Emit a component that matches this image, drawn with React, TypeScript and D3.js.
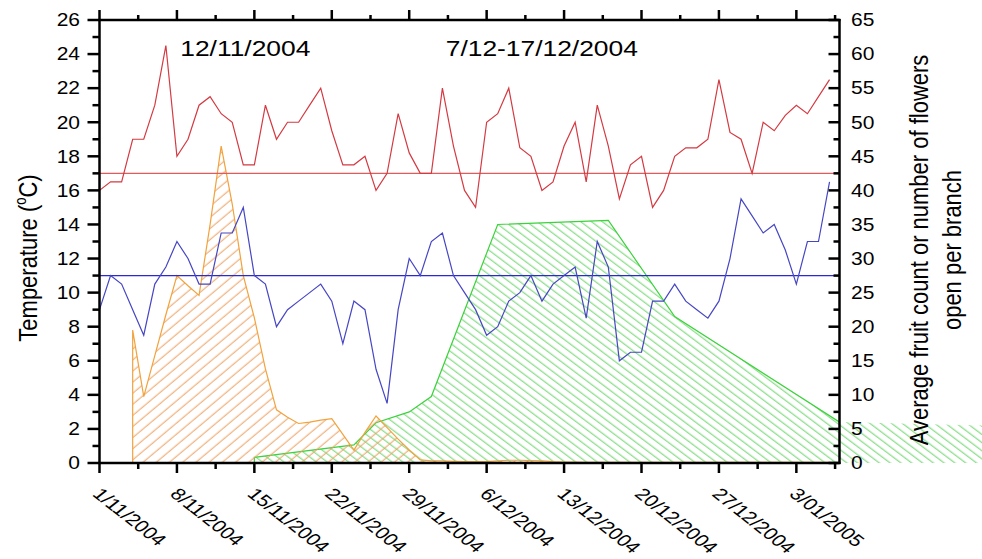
import React from "react";
import * as d3 from "d3";

// ---- data ----
const tickDateLabels = ["1/11/2004", "8/11/2004", "15/11/2004", "22/11/2004", "29/11/2004", "6/12/2004", "13/12/2004", "20/12/2004", "27/12/2004", "3/01/2005"];
const tickDays = [0, 7, 14, 21, 28, 35, 42, 49, 56, 63];

// daily max temperature (°C), day 0 = 1/11/2004
const tMax = [16, 16.5, 16.5, 19, 19, 21, 24.5, 18, 19, 21, 21.5, 20.5, 20, 17.5, 17.5, 21, 19, 20, 20, 21, 22, 19.5, 17.5, 17.5, 18, 16, 17, 20.5, 18.2, 17, 17, 22, 18.6, 16, 15, 20, 20.5, 22, 18.5, 18, 16, 16.5, 18.6, 20, 16.5, 21, 18.6, 15.5, 17.5, 18, 15, 16, 18, 18.5, 18.5, 19, 22.5, 19.4, 19, 17, 20, 19.5, 20.4, 21, 20.5, 21.5, 22.5];
// daily min temperature (°C)
const tMin = [9, 11, 10.5, 9, 7.5, 10.5, 11.5, 13, 12, 10.5, 10.5, 13.5, 13.5, 15, 11, 10.5, 8, 9, 9.5, 10, 10.5, 9.5, 7, 9.5, 9, 5.5, 3.5, 9, 12, 11, 13, 13.5, 11, 10, 9, 7.5, 8, 9.5, 10, 11, 9.5, 10.5, 11, 11.5, 8.5, 13, 11.5, 6, 6.5, 6.5, 9.5, 9.5, 10.5, 9.5, 9, 8.5, 9.5, 12, 15.5, 14.5, 13.5, 14, 12.5, 10.5, 13, 13, 16.5];

const maxRef = 17;
const minRef = 11;

// flowers (orange) per branch, days 3..66 (right axis)
const flowerStartDay = 3;
const flowers = [19.5, 9.75, 15.75, 21.75, 27.5, 26, 24.6, 35, 46.5, 38, 27.5, 21.3, 13.8, 7.8, 6.7, 5.8, 6, 6.3, 6.5, 4.2, 1.9, 4.5, 6.9, 5.2, 3.5, 1.9, 0.45,
  0.3, 0.3, 0.25, 0.2, 0.2, 0.2, 0.3, 0.4, 0.4, 0.35, 0.3, 0.2, 0.15, 0.15, 0.1, 0.1, 0.1, 0.1, 0.1, 0.1, 0.1, 0.1, 0.1, 0.1, 0.1, 0.1, 0.1, 0.1, 0.1, 0.1, 0.1, 0.1, 0.1, 0.1, 0.1, 0.1, 0.1];

// fruit count (green) (right axis)
const fruitDays = [14, 23, 25, 28, 30, 36, 46, 52, 66.9, 80];
const fruit = [0.83, 2.65, 5.9, 7.5, 9.75, 35, 35.6, 21.5, 6, 5.5];

const annotations = ["12/11/2004", "7/12-17/12/2004"];
const annotationDays = [7.3, 31.3];

const leftTitle = "Temperature (";
const rightTitle1 = "Average fruit count or number of flowers";
const rightTitle2 = "open per branch";

// ---- layout ----
const W = 982, H = 559;
const L = 99.5, R = 839.5, T = 20, B = 463;
const SX = 1.2;
const FONT = "'Liberation Sans', Arial, Helvetica, sans-serif";

const x = d3.scaleLinear().domain([0, 66.9]).range([L, R]);
const yL = d3.scaleLinear().domain([0, 26]).range([B, T]);
const yR = d3.scaleLinear().domain([0, 65]).range([B, T]);

function ST({ x: tx, y: ty, rot = 0, anchor = "start", size = 17, children, dy = 0, sx = SX }: any) {
  return (
    <g transform={`translate(${tx},${ty}) scale(${sx},1) rotate(${rot})`}>
      <text textAnchor={anchor} fontSize={size} fontFamily={FONT} fill="#000" dy={dy}>{children}</text>
    </g>
  );
}

export default function App() {
  const days = d3.range(tMax.length);
  const lineL = d3.line<number>().x((_, i) => x(days[i])).y((d) => yL(d));
  const flowerPts = flowers.map((v, i) => ({ d: flowerStartDay + i, v }));
  const fruitPts = fruit.map((v, i) => ({ d: fruitDays[i], v }));
  const area = d3.area<{ d: number; v: number }>().x((p) => x(p.d)).y0(yR(0)).y1((p) => yR(p.v));
  const outline = d3.line<{ d: number; v: number }>().x((p) => x(p.d)).y((p) => yR(p.v));

  const leftMajor = d3.range(0, 27, 2);
  const leftMinor = d3.range(1, 26, 2);
  const rightMajor = d3.range(0, 66, 5);
  const rightMinor = d3.range(2.5, 65, 5);
  const xMinor = tickDays.map((d) => d + 3.5);

  return (
    <svg width={W} height={H} style={{ position: "absolute", left: 0, top: 0, background: "#fff" }}>
      <defs>
        <pattern id="hO" patternUnits="userSpaceOnUse" width="10" height="8.5" patternTransform="rotate(-40)">
          <line x1="0" y1="4" x2="10" y2="4" stroke="#eca060" strokeWidth="1" />
        </pattern>
        <pattern id="hG" patternUnits="userSpaceOnUse" width="10" height="6.5" patternTransform="rotate(37)">
          <line x1="0" y1="3" x2="10" y2="3" stroke="#6cd66c" strokeWidth="1" />
        </pattern>
        <clipPath id="plot"><rect x={L} y={T} width={R - L} height={B - T} /></clipPath>
      </defs>
      <rect x={0} y={0} width={W} height={H} fill="#fff" />

      {/* fruit (green) */}
      <path d={area(fruitPts) || ""} fill="url(#hG)" />
      <g clipPath="url(#plot)">
        <path d={outline([{ d: fruitDays[0], v: 0 }, ...fruitPts]) || ""} fill="none" stroke="#3cd23c" strokeWidth={1.2} />
      </g>

      {/* flowers (orange) */}
      <path d={area(flowerPts) || ""} fill="url(#hO)" />
      <path d={outline([{ d: flowerStartDay, v: 0 }, ...flowerPts]) || ""} fill="none" stroke="#f2a23c" strokeWidth={1.2} />

      <g clipPath="url(#plot)">
        <line x1={L} x2={R} y1={yL(maxRef)} y2={yL(maxRef)} stroke="#e25a5a" strokeWidth={1.4} />
        <line x1={L} x2={R} y1={yL(minRef)} y2={yL(minRef)} stroke="#2a2ad0" strokeWidth={1.1} />
        <path d={lineL(tMax) || ""} fill="none" stroke="#d43a42" strokeWidth={1.2} />
        <path d={lineL(tMin) || ""} fill="none" stroke="#4646c4" strokeWidth={1.2} />
      </g>

      {/* axes frame */}
      <g stroke="#000" strokeWidth={2.5} fill="none">
        <line x1={L} x2={L} y1={T - 1} y2={B + 1} />
        <line x1={R} x2={R} y1={T - 1} y2={B + 1} />
        <line x1={L - 1} x2={R + 1} y1={T} y2={T} />
        <line x1={L - 1} x2={R + 1} y1={B} y2={B} />
        {leftMajor.map((v) => <line key={"lM" + v} x1={L - 12} x2={L} y1={yL(v)} y2={yL(v)} />)}
        {leftMinor.map((v) => <line key={"lm" + v} x1={L - 7} x2={L} y1={yL(v)} y2={yL(v)} />)}
        {rightMajor.map((v) => <line key={"rM" + v} x1={R - 11} x2={R} y1={yR(v)} y2={yR(v)} />)}
        {rightMinor.map((v) => <line key={"rm" + v} x1={R - 6} x2={R} y1={yR(v)} y2={yR(v)} />)}
        {tickDays.map((d) => <line key={"bM" + d} x1={x(d)} x2={x(d)} y1={B} y2={B + 10} />)}
        {xMinor.map((d) => <line key={"bm" + d} x1={x(d)} x2={x(d)} y1={B} y2={B + 6} />)}
        {tickDays.map((d) => <line key={"tM" + d} x1={x(d)} x2={x(d)} y1={T - 10} y2={T} />)}
        {xMinor.map((d) => <line key={"tm" + d} x1={x(d)} x2={x(d)} y1={T - 5} y2={T} />)}
      </g>

      {/* tick labels */}
      {leftMajor.map((v) => (
        <ST key={"lt" + v} x={80} y={yL(v)} anchor="end" size={17.5} dy="0.36em">{v}</ST>
      ))}
      {rightMajor.map((v) => (
        <ST key={"rt" + v} x={851} y={yR(v)} anchor="start" size={17.5} dy="0.36em">{v}</ST>
      ))}
      {tickDays.map((d, i) => (
        <ST key={"xt" + d} x={x(d) - 8} y={495} rot={45} anchor="start" size={16.8} sx={1.27}>{tickDateLabels[i]}</ST>
      ))}

      {/* annotations */}
      {annotations.map((a, i) => (
        <ST key={"an" + i} x={x(annotationDays[i])} y={56} anchor="start" size={22}>{a}</ST>
      ))}

      {/* axis titles */}
      <g transform={`translate(37,258) scale(${SX},1) rotate(-90)`}>
        <text textAnchor="middle" fontSize={22} fontFamily={FONT} fill="#000">
          {leftTitle}
          <tspan fontSize={13} dy={-9}>o</tspan>
          <tspan dy={9}>C)</tspan>
        </text>
      </g>
      <ST x={928} y={250} rot={-90} anchor="middle" size={22}>{rightTitle1}</ST>
      <ST x={961} y={250} rot={-90} anchor="middle" size={22}>{rightTitle2}</ST>
    </svg>
  );
}
